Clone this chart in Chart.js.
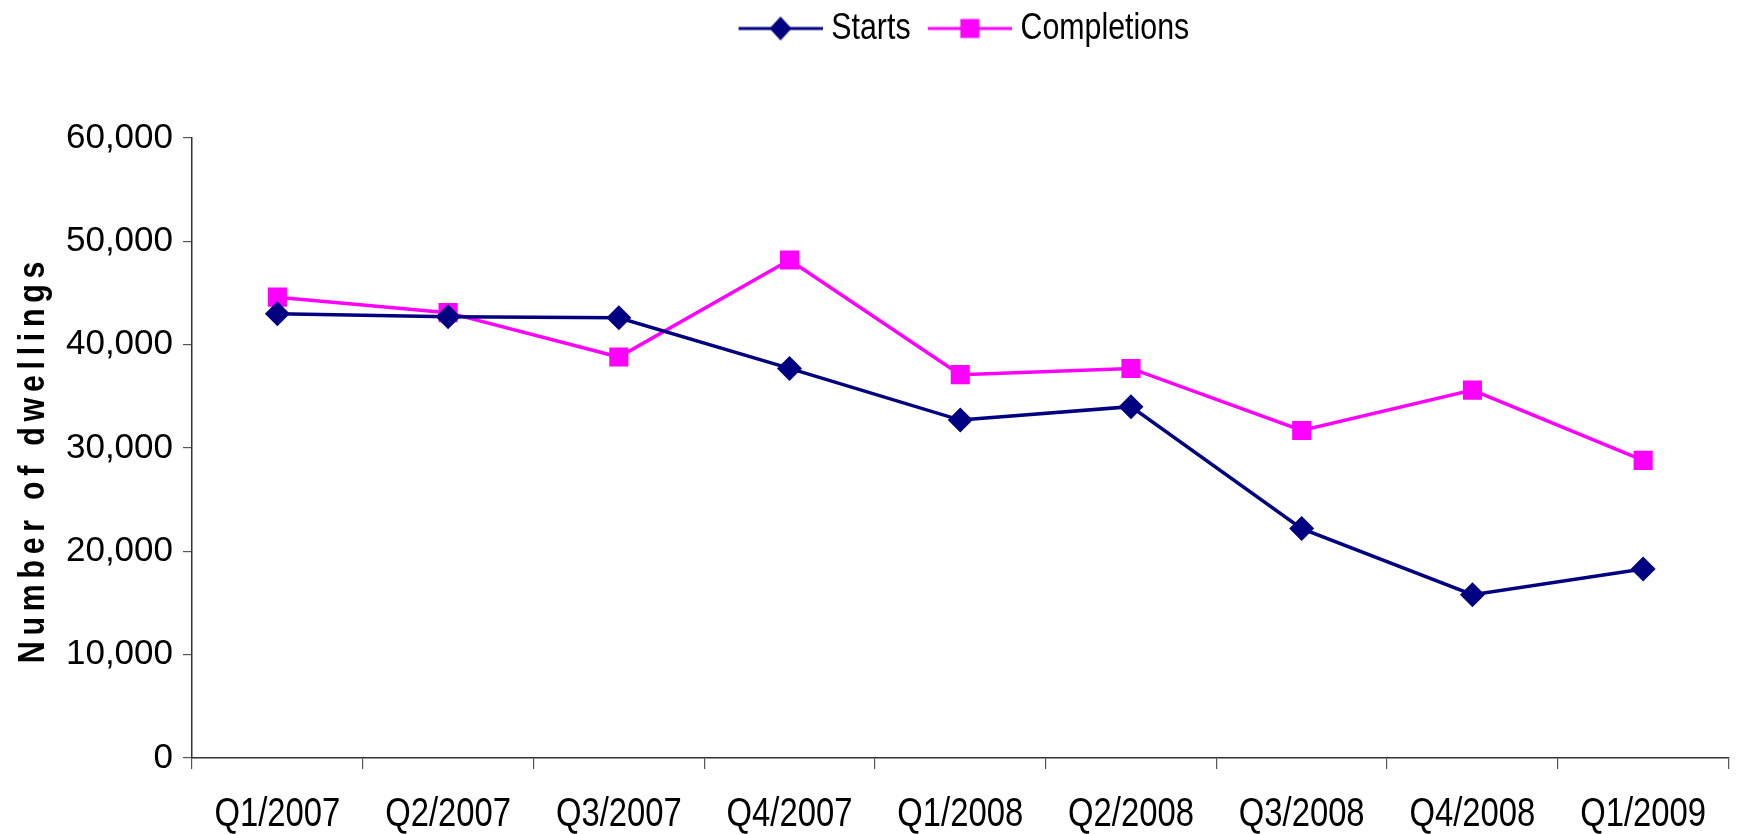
<!DOCTYPE html>
<html>
<head>
<meta charset="utf-8">
<script src="https://cdn.jsdelivr.net/npm/chart.js@4.4.1/dist/chart.umd.min.js"></script>
<style>
  html, body { margin: 0; padding: 0; background: #fff; }
  #wrap { width: 1742px; height: 834px; }
</style>
</head>
<body>
<div id="wrap"><canvas id="chartHousing"></canvas></div>
<script>
// Données du graphique
const quarters = ['Q1/2007', 'Q2/2007', 'Q3/2007', 'Q4/2007', 'Q1/2008', 'Q2/2008', 'Q3/2008', 'Q4/2008', 'Q1/2009'];
const starts = [43000, 42700, 42600, 37700, 32700, 34000, 22200, 15800, 18300];
const completions = [44600, 43100, 38800, 48200, 37100, 37700, 31700, 35600, 28800];
const yTicks = [0, 10000, 20000, 30000, 40000, 50000, 60000];

const NAVY = '#000080';
const MAGENTA = '#ff00ff';
// pas de police "Narrow" installée : on compresse le texte à la main (voir plus bas)
const NARROW = "'Liberation Sans Narrow', 'Liberation Sans', sans-serif";
const SQUEEZE = 0.82;

const canvas = document.getElementById('chartHousing');
const g = canvas.getContext('2d');

/**
 * Texte condensé : fillText avec maxWidth réduit quand la police est "Narrow"
 */
const rawFill = g.fillText;
const rawMeasure = g.measureText;
g.fillText = function(text, x, y, maxWidth) {
    if (this.font.indexOf('Narrow') >= 0) {
        const w = rawMeasure.call(this, text).width * SQUEEZE;
        return rawFill.call(this, text, x, y, w);
    }
    return maxWidth === undefined ? rawFill.call(this, text, x, y) : rawFill.call(this, text, x, y, maxWidth);
};
g.measureText = function(text) {
    const m = rawMeasure.call(this, text);
    if (this.font.indexOf('Narrow') >= 0) return { width: m.width * SQUEEZE };
    return m;
};

/**
 * Petite image de légende : trait + marqueur
 */
function legendIcon(color, shape) {
    const c = document.createElement('canvas');
    c.width = 101;
    c.height = 28;
    const p = c.getContext('2d');
    const x0 = 17, x1 = 101, mx = (x0 + x1) / 2;
    p.fillStyle = color;
    p.fillRect(x0, 12.5, x1 - x0, 3);
    p.beginPath();
    if (shape === 'diamond') {
        p.moveTo(mx, 2); p.lineTo(mx + 11, 14); p.lineTo(mx, 26); p.lineTo(mx - 11, 14);
    } else {
        p.rect(mx - 9.5, 4.5, 19, 19);
    }
    p.closePath();
    p.fill();
    return c;
}

const icons = [legendIcon(NAVY, 'diamond'), legendIcon(MAGENTA, 'square')];

const layoutPlugin = {
    id: 'housingLayout',
    beforeLayout(chart) {
        // hauteur fixe de la légende pour placer le haut du graphique
        const legend = chart.legend;
        if (legend && !legend._patched) {
            legend._patched = true;
            const fit = legend.fit;
            legend.fit = function() { fit.call(this); this.height = 138; };
        }
    },
    afterDraw(chart) {
        // titre de l'axe Y, gras, condensé et espacé
        const ctx = chart.ctx;
        ctx.save();
        ctx.translate(44, 462);
        ctx.rotate(-Math.PI / 2);
        ctx.scale(SQUEEZE, 1);
        ctx.font = "bold 37px 'Liberation Sans', Arial, sans-serif";
        ctx.letterSpacing = '7px';
        ctx.fillStyle = '#000';
        ctx.textAlign = 'center';
        ctx.textBaseline = 'alphabetic';
        ctx.fillText('Number of dwellings', 3, 0);
        ctx.restore();
    }
};

new Chart(canvas, {
    type: 'line',
    data: {
        labels: quarters,
        datasets: [{
            label: 'Starts',
            data: starts,
            borderColor: NAVY,
            backgroundColor: NAVY,
            borderWidth: 3.5,
            pointStyle: 'rectRot',
            pointRadius: 12.5,
            pointBorderWidth: 0,
            tension: 0
        }, {
            label: 'Completions',
            data: completions,
            borderColor: MAGENTA,
            backgroundColor: MAGENTA,
            borderWidth: 3.5,
            pointStyle: 'rect',
            pointRadius: 13.5,
            pointBorderWidth: 0,
            tension: 0
        }]
    },
    options: {
        responsive: true,
        maintainAspectRatio: false,
        animation: false,
        layout: { padding: 0 },
        plugins: {
            legend: {
                position: 'top',
                fullSize: false,
                labels: {
                    usePointStyle: true,
                    pointStyleWidth: 81.5,
                    padding: 10,
                    color: '#000',
                    font: { family: NARROW, size: 37 },
                    generateLabels(chart) {
                        return chart.data.datasets.map((ds, i) => ({
                            text: ds.label,
                            pointStyle: icons[i],
                            fillStyle: ds.borderColor,
                            strokeStyle: ds.borderColor,
                            lineWidth: 0,
                            hidden: false,
                            datasetIndex: i
                        }));
                    }
                }
            },
            tooltip: { enabled: false }
        },
        scales: {
            x: {
                offset: true,
                afterFit(scale) {
                    scale.height = 76;
                    scale.paddingLeft = 0;
                    scale.paddingRight = 0;
                },
                border: { display: true, color: '#333', width: 1.5 },
                grid: {
                    offset: true,
                    drawOnChartArea: false,
                    drawTicks: true,
                    tickLength: 11,
                    color: '#555',
                    lineWidth: 1.2
                },
                ticks: {
                    color: '#000',
                    padding: 22,
                    maxRotation: 0,
                    autoSkip: false,
                    font: { family: NARROW, size: 40 }
                }
            },
            y: {
                min: 0,
                max: 60000,
                afterFit(scale) { scale.width = 192; },
                afterBuildTicks(scale) { scale.ticks = yTicks.map(v => ({ value: v })); },
                border: { display: true, color: '#333', width: 1.5 },
                grid: {
                    drawOnChartArea: false,
                    drawTicks: true,
                    tickLength: 9,
                    color: '#555',
                    lineWidth: 1.2
                },
                ticks: {
                    color: '#000',
                    padding: 10,
                    font: { family: "'Liberation Sans', Arial, sans-serif", size: 35 },
                    callback: v => v.toLocaleString('en-US')
                }
            }
        }
    },
    plugins: [layoutPlugin]
});
</script>
</body>
</html>
